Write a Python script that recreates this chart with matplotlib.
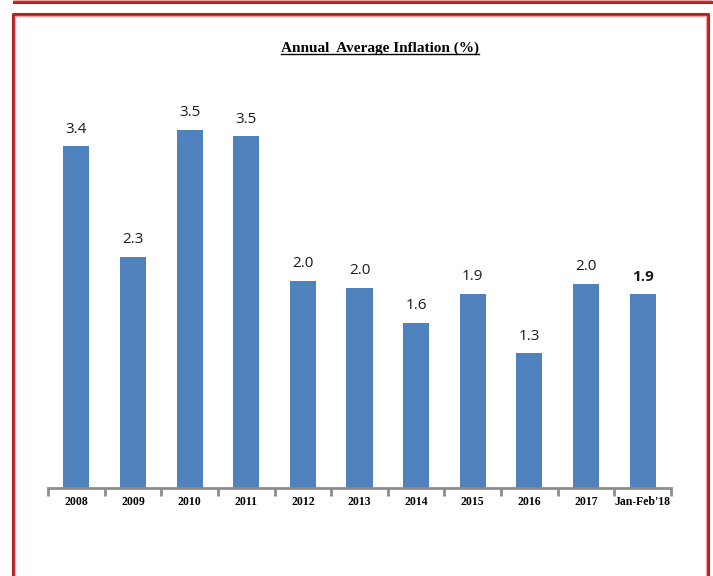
import numpy as np
import matplotlib.pyplot as plt
from matplotlib.lines import Line2D

# data
years = ['2008', '2009', '2010', '2011', '2012', '2013', '2014', '2015', '2016', '2017', "Jan-Feb'18"]
inflation = [3.40, 2.30, 3.56, 3.50, 2.06, 1.99, 1.64, 1.93, 1.34, 2.03, 1.93]
labels = ['3.4', '2.3', '3.5', '3.5', '2.0', '2.0', '1.6', '1.9', '1.3', '2.0', '1.9']

W, H = 713, 576
fig = plt.figure(figsize=(W / 100, H / 100), dpi=100)
ax = fig.add_axes([48 / W, (H - 488) / H, (671 - 48) / W, 402 / H])

x = np.arange(len(years))
ax.bar(x, inflation, width=0.46, color='#4f81bd', zorder=2)

for i, (v, lab) in enumerate(zip(inflation, labels)):
    last = i == len(years) - 1
    ax.annotate(lab, (i, v), xytext=(0, 7), textcoords='offset points',
                ha='center', va='bottom', fontsize=11,
                fontweight='bold' if last else 'normal',
                family='Open Sans', color='#1a1a1a')

ax.set_xlim(-0.5, len(years) - 0.5)
ax.set_ylim(0, 4.0)
ax.set_yticks([])
for s in ['top', 'right', 'left']:
    ax.spines[s].set_visible(False)
ax.spines['bottom'].set_color('#8c8c8c')
ax.spines['bottom'].set_linewidth(2)

# ticks between categories
ax.set_xticks(np.arange(-0.5, len(years) + 0.5, 1.0))
ax.set_xticklabels([])
ax.set_xticks(x, minor=True)
ax.set_xticklabels(years, minor=True, fontsize=8.5, fontweight='bold',
                   family='Liberation Serif')
ax.tick_params(axis='x', which='major', length=6, width=2, color='#8c8c8c', direction='out')
ax.tick_params(axis='x', which='minor', length=0, pad=6)

# title with underline
t = fig.text(380 / W, 1 - 48 / H, 'Annual  Average Inflation (%)', ha='center', va='center',
             fontsize=11, fontweight='bold', family='Liberation Serif')
fig.canvas.draw()
bb = t.get_window_extent().transformed(fig.transFigure.inverted())
fig.add_artist(Line2D([bb.x0, bb.x1], [bb.y0 + 0.002, bb.y0 + 0.002],
                      transform=fig.transFigure, color='black', lw=1))

# page frame borders
def fx(p):
    return p / W

def fy(p):
    return 1 - p / H

for col, lw, off in [('#b22222', 2.2, 0), ('#f2a0a0', 1.0, 2)]:
    fig.add_artist(Line2D([fx(14), fx(711)], [fy(2 - off), fy(2 - off)],
                          transform=fig.transFigure, color=col, lw=lw))
    fig.add_artist(Line2D([fx(13 + off), fx(13 + off), fx(708 - off), fx(708 - off)],
                          [fy(H + 5), fy(14 + off), fy(14 + off), fy(H + 5)],
                          transform=fig.transFigure, color=col, lw=lw))

fig.savefig('out.png', dpi=100)
